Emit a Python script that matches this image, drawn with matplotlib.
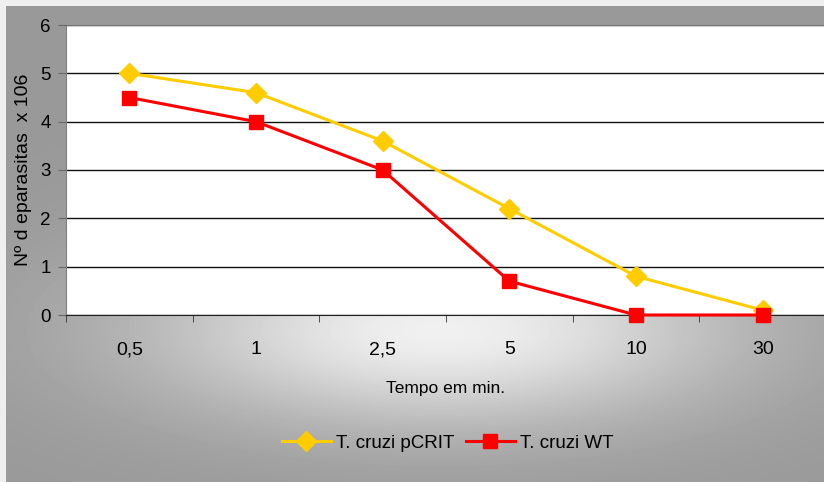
import numpy as np
import matplotlib.pyplot as plt
from matplotlib.ticker import FixedLocator

plt.rcParams['font.family'] = ['Liberation Sans', 'DejaVu Sans']

# ---------------------------------------------------------------------------
# Data
# ---------------------------------------------------------------------------
tempos = ["0,5", "1", "2,5", "5", "10", "30"]
pcrit = [5.0, 4.6, 3.6, 2.2, 0.8, 0.1]
wt = [4.5, 4.0, 3.0, 0.7, 0.0, 0.0]
y_ticks = [0, 1, 2, 3, 4, 5, 6]

W, H = 824, 482
fig = plt.figure(figsize=(W / 100, H / 100), dpi=100, facecolor="#efefef")

# ---------------------------------------------------------------------------
# Gray chart-area background with a soft light spot under the plot
# ---------------------------------------------------------------------------
bg = fig.add_axes([6 / W, 0, 1 - 6 / W, 1 - 6 / H])
xx, yy = np.meshgrid(np.arange(6, W), np.arange(6, H))
cx, cy = 440, 330
glow = np.exp(-((xx - cx) / 290.0) ** 2 - ((yy - cy) / 95.0) ** 2)
shade = 0.60 + 0.34 * glow
bg.imshow(shade, cmap="gray", vmin=0, vmax=1, aspect="auto",
          extent=[6, W, H, 6], interpolation="bilinear")
bg.set_axis_off()

# ---------------------------------------------------------------------------
# Plot area
# ---------------------------------------------------------------------------
left, top, bottom, right = 66, 25, 315, 826
ax = fig.add_axes([left / W, 1 - bottom / H, (right - left) / W, (bottom - top) / H])
ax.set_facecolor("white")

x = np.arange(len(tempos))
ax.plot(x, pcrit, color="#FFCC00", lw=2.2, marker="D", ms=10,
        mec="#FFCC00", mfc="#FFCC00", label="T. cruzi pCRIT", zorder=3,
        clip_on=False)
ax.plot(x, wt, color="#FF0000", lw=2.2, marker="s", ms=10.5,
        mec="#FF0000", mfc="#FF0000", label="T. cruzi WT", zorder=4,
        clip_on=False)

ax.set_xlim(-0.5, len(tempos) - 0.5)
ax.set_ylim(0, 6)
ax.set_yticks(y_ticks)
ax.yaxis.grid(True, color="#111111", lw=1.0)
ax.set_axisbelow(True)

ax.set_xticks(x)
ax.set_xticklabels(tempos, fontsize=14)
ax.xaxis.set_minor_locator(FixedLocator(np.arange(len(tempos) + 1) - 0.5))
ax.tick_params(axis="x", which="major", length=0, pad=19)
ax.tick_params(axis="x", which="minor", length=5, color="#333333", direction="out")
ax.tick_params(axis="y", length=6, color="#666666", direction="out", pad=5,
               labelsize=13.5)

ax.spines["right"].set_visible(False)
ax.spines["top"].set_color("#777777")
ax.spines["left"].set_color("#808080")
ax.spines["bottom"].set_color("#222222")

ax.set_xlabel("Tempo em min.", fontsize=12.5, labelpad=16)
ax.set_ylabel("Nº d eparasitas  x 106", fontsize=14, labelpad=6)

fig.legend(loc="center", bbox_to_anchor=(448 / W, 1 - 443 / H), ncol=2,
           frameon=False, fontsize=13.5, handlelength=2.6, handletextpad=0.3,
           columnspacing=0.6)

fig.savefig("out.png", dpi=100, facecolor=fig.get_facecolor())
